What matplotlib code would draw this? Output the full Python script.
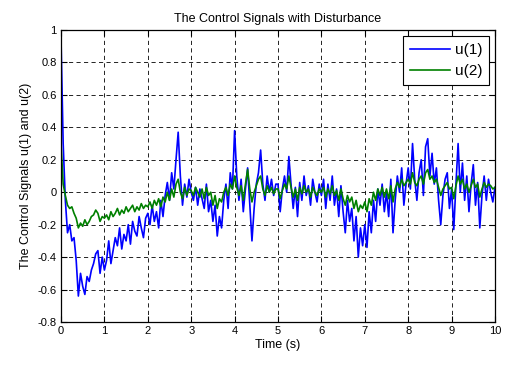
import numpy as np
import matplotlib
matplotlib.use("Agg")
import matplotlib.pyplot as plt

plt.rcParams['font.family'] = ['Liberation Sans', 'DejaVu Sans']

dt = 0.05
u1 = [
    0.95, 0.30, -0.05, -0.25, -0.20, -0.30, -0.28, -0.42, -0.64, -0.50, -0.58, -0.63, -0.52, -0.55, -0.48, -0.44, -0.38, -0.36, -0.50, -0.40,
    -0.48, -0.42, -0.30, -0.44, -0.36, -0.28, -0.33, -0.22, -0.35, -0.26, -0.30, -0.20, -0.32, -0.18, -0.24, -0.27, -0.15, -0.22, -0.28, -0.16,
    -0.13, -0.20, -0.08, -0.18, -0.12, -0.22, -0.05, -0.15, -0.02, 0.06, -0.05, 0.12, 0.02, 0.20, 0.37, 0.10, -0.08, 0.05, -0.03, 0.08,
    0.00, -0.05, 0.03, -0.08, 0.02, -0.04, -0.10, 0.05, -0.12, -0.05, -0.18, -0.08, -0.27, -0.15, -0.22, -0.05, 0.05, -0.10, 0.12, 0.02,
    0.38, 0.10, -0.05, 0.08, -0.12, 0.02, 0.15, -0.08, -0.30, -0.10, 0.05, 0.12, 0.26, 0.05, -0.05, 0.10, 0.00, 0.08, -0.02, 0.05,
    0.05, -0.12, 0.02, 0.10, 0.00, 0.22, 0.05, -0.10, 0.03, -0.15, 0.06, -0.05, 0.10, -0.02, 0.04, -0.08, 0.08, 0.00, -0.06, 0.05,
    -0.02, 0.08, -0.10, 0.05, -0.05, 0.10, -0.08, 0.02, -0.15, 0.04, -0.12, -0.25, -0.05, -0.18, -0.10, -0.30, -0.15, -0.40, -0.22, -0.33,
    -0.20, -0.34, -0.12, -0.25, -0.05, -0.18, 0.02, -0.08, 0.05, -0.12, 0.00, -0.15, 0.08, -0.25, -0.05, 0.10, 0.00, 0.15, -0.08, 0.05,
    0.15, 0.02, 0.30, 0.08, -0.05, 0.12, 0.20, -0.02, 0.28, 0.33, 0.10, 0.24, 0.05, 0.15, -0.05, -0.20, -0.02, 0.08, 0.12, -0.10,
    0.02, -0.23, 0.05, 0.30, 0.00, 0.18, -0.05, 0.10, -0.12, 0.05, 0.17, -0.08, 0.06, -0.22, -0.02, 0.10, -0.05, 0.08, 0.00, -0.06, 0.03,
]
u2 = [
    0.30, 0.05, -0.02, -0.08, -0.10, -0.09, -0.13, -0.16, -0.22, -0.19, -0.21, -0.17, -0.20, -0.18, -0.15, -0.14, -0.11, -0.13, -0.18, -0.15,
    -0.16, -0.14, -0.17, -0.12, -0.15, -0.13, -0.10, -0.14, -0.11, -0.13, -0.09, -0.12, -0.10, -0.08, -0.12, -0.09, -0.11, -0.07, -0.10, -0.08,
    -0.09, -0.06, -0.10, -0.05, -0.08, -0.04, -0.09, -0.03, -0.06, 0.00, -0.05, 0.02, -0.03, 0.05, 0.08, 0.00, -0.04, 0.03, -0.02, 0.02,
    0.01, -0.02, 0.03, 0.00, -0.03, 0.02, -0.04, 0.03, -0.02, 0.00, -0.08, -0.02, -0.10, -0.04, -0.06, 0.00, 0.03, -0.02, 0.05, 0.02,
    0.10, 0.03, -0.02, 0.04, -0.05, 0.05, 0.14, 0.02, -0.06, 0.00, 0.04, 0.08, 0.10, 0.02, -0.02, 0.04, 0.00, 0.03, -0.01, 0.02,
    0.02, -0.04, 0.01, 0.05, 0.02, 0.10, 0.03, -0.03, 0.02, -0.05, 0.03, -0.01, 0.04, 0.00, 0.02, -0.03, 0.03, 0.00, -0.02, 0.02,
    0.00, 0.03, -0.03, 0.02, -0.01, 0.04, -0.02, 0.01, -0.05, 0.02, -0.04, -0.08, -0.02, -0.06, -0.03, -0.10, -0.05, -0.12, -0.08, -0.10,
    -0.06, -0.12, -0.04, -0.08, 0.00, -0.05, 0.02, -0.02, 0.03, -0.03, 0.02, -0.04, 0.04, -0.06, 0.02, 0.06, 0.03, 0.08, 0.04, 0.06,
    0.08, 0.05, 0.12, 0.06, 0.04, 0.08, 0.10, 0.05, 0.12, 0.14, 0.08, 0.10, 0.06, 0.08, 0.03, -0.02, 0.02, 0.04, 0.06, 0.02,
    0.03, -0.04, 0.04, 0.10, 0.05, 0.08, 0.02, 0.05, 0.00, 0.04, 0.08, 0.03, 0.05, -0.03, 0.02, 0.06, 0.03, 0.05, 0.04, 0.02, 0.03,
]
t = np.arange(len(u1)) * dt

xticks = list(range(0, 11))
yticks = [-0.8, -0.6, -0.4, -0.2, 0, 0.2, 0.4, 0.6, 0.8, 1]
ytick_labels = ['-0.8', '-0.6', '-0.4', '-0.2', '0', '0.2', '0.4', '0.6', '0.8', '1']
series_names = ['u(1)', 'u(2)']
title = 'The Control Signals with Disturbance'
xlabel = 'Time (s)'
ylabel = 'The Control Signals u(1) and u(2)'

fig = plt.figure(figsize=(5.09, 3.65), dpi=100)
ax = fig.add_axes([61/509, 1-322/365, (495-61)/509, (322-30)/365])

ax.plot(t, u1, color='#0000ff', lw=1.2, label=series_names[0])
ax.plot(t, u2, color='#008000', lw=1.2, label=series_names[1])

ax.set_xlim(0, 10)
ax.set_ylim(-0.8, 1)
ax.set_xticks(xticks)
ax.set_yticks(yticks)
ax.set_yticklabels(ytick_labels)
ax.tick_params(direction='in', length=4, width=0.8, labelsize=8, top=True, right=True, pad=3)
ax.grid(True, color='black', linestyle=(0, (5, 4)), linewidth=0.6)
for s in ax.spines.values():
    s.set_linewidth(0.9)

ax.set_title(title, fontsize=9, pad=6)
ax.set_xlabel(xlabel, fontsize=9, labelpad=2)
ax.set_ylabel(ylabel, fontsize=9, labelpad=4)

leg = ax.legend(loc='upper right', fontsize=11, fancybox=False, framealpha=1,
                edgecolor='black', handlelength=2.6, borderpad=0.45, labelspacing=0.45,
                handletextpad=0.3, borderaxespad=0.4)
leg.get_frame().set_linewidth(0.8)

fig.savefig('out.png', dpi=100)
